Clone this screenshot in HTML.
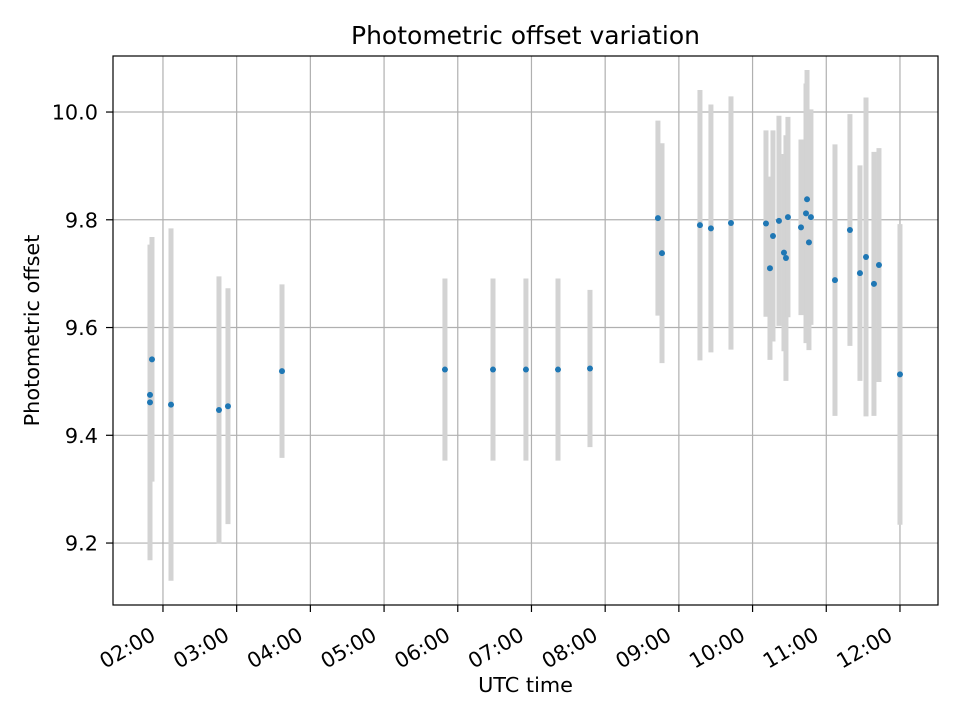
<!DOCTYPE html>
<html><head><meta charset="utf-8"><style>
body{margin:0;background:#fff;font-family:"Liberation Sans","DejaVu Sans",sans-serif}
svg text{font-family:"DejaVu Sans","Liberation Sans",sans-serif;fill:#000}
</style></head><body>
<svg id="chart" width="960" height="720" xmlns="http://www.w3.org/2000/svg"></svg>
<script>
const times=[1.824,1.851,1.824,2.109,2.760,2.882,3.615,5.826,6.478,6.925,7.360,7.794,8.716,8.771,9.286,9.435,9.707,10.182,10.236,10.277,10.358,10.426,10.453,10.480,10.657,10.725,10.739,10.765,10.792,11.118,11.321,11.457,11.539,11.647,11.715,12.000];
const offsets=[9.475,9.541,9.461,9.457,9.447,9.454,9.519,9.522,9.522,9.522,9.522,9.524,9.803,9.738,9.790,9.784,9.794,9.793,9.710,9.770,9.798,9.739,9.729,9.805,9.786,9.812,9.838,9.758,9.805,9.688,9.781,9.701,9.731,9.681,9.716,9.513];
const errors=[0.278,0.227,0.293,0.327,0.248,0.219,0.161,0.169,0.169,0.169,0.169,0.146,0.181,0.204,0.251,0.230,0.235,0.173,0.170,0.196,0.195,0.183,0.228,0.186,0.163,0.241,0.240,0.200,0.200,0.252,0.215,0.200,0.296,0.245,0.217,0.279];
const yTicks=[9.2,9.4,9.6,9.8,10.0];
const yTickLabels=["9.2","9.4","9.6","9.8","10.0"];
const xTicks=[2,3,4,5,6,7,8,9,10,11,12];
const xTickLabels=["02:00","03:00","04:00","05:00","06:00","07:00","08:00","09:00","10:00","11:00","12:00"];

const L=113,R=938,T=56,B=605;
const xMin=1.322,xMax=12.516,yMin=9.085,yMax=10.104;
const sx=v=>L+(v-xMin)/(xMax-xMin)*(R-L);
const sy=v=>B-(v-yMin)/(yMax-yMin)*(B-T);
const svg=document.getElementById('chart');
const NS='http://www.w3.org/2000/svg';
function mk(tag,attrs,parent){const e=document.createElementNS(NS,tag);for(const k in attrs)e.setAttribute(k,attrs[k]);(parent||svg).appendChild(e);return e;}

const grid=mk('g',{});


xTicks.forEach(t=>{const x=sx(t);mk('line',{x1:x,x2:x,y1:T,y2:B,stroke:'#b0b0b0','stroke-width':1.2},grid);});
yTicks.forEach(t=>{const y=sy(t);mk('line',{x1:L,x2:R,y1:y,y2:y,stroke:'#b0b0b0','stroke-width':1.2},grid);});

const eb=mk('g',{});


times.forEach((t,i)=>{const x=sx(t);
 const l=mk('line',{x1:x,x2:x,y1:sy(offsets[i]+errors[i]),y2:sy(offsets[i]-errors[i]),stroke:'#d3d3d3','stroke-width':5},eb);
 
 });
const pts=mk('g',{});


times.forEach((t,i)=>{const c=mk('circle',{cx:sx(t),cy:sy(offsets[i]),r:3,fill:'#1f77b4'},pts);
 
 });

const frame=mk('rect',{x:L,y:T,width:R-L,height:B-T,fill:'none',stroke:'#000','stroke-width':1.2});



const xa=mk('g',{});


xTicks.forEach((t,i)=>{const x=sx(t);mk('line',{x1:x,x2:x,y1:B,y2:B+7,stroke:'#000','stroke-width':1.2},xa);
 const bx=x-6,by=B+34;
 const tx=mk('text',{x:bx,y:by,'font-size':20.8,'text-anchor':'end',transform:`rotate(-30 ${bx} ${by})`},xa);
 tx.textContent=xTickLabels[i];
 
 });
const ya=mk('g',{});


yTicks.forEach((t,i)=>{const y=sy(t);mk('line',{x1:L-7,x2:L,y1:y,y2:y,stroke:'#000','stroke-width':1.2},ya);
 const tx=mk('text',{x:L-15,y:y+7.5,'font-size':20.8,'text-anchor':'end'},ya);
 tx.textContent=yTickLabels[i];
 
 });

const title=mk('text',{x:(L+R)/2,y:44,'font-size':25,'text-anchor':'middle'});
title.textContent='Photometric offset variation';


const xt=mk('text',{x:(L+R)/2,y:692,'font-size':20.8,'text-anchor':'middle'});
xt.textContent='UTC time';


const yt=mk('text',{x:39,y:(T+B)/2,'font-size':20.8,'text-anchor':'middle',transform:`rotate(-90 39 ${(T+B)/2})`});
yt.textContent='Photometric offset';


</script>
</body></html>
